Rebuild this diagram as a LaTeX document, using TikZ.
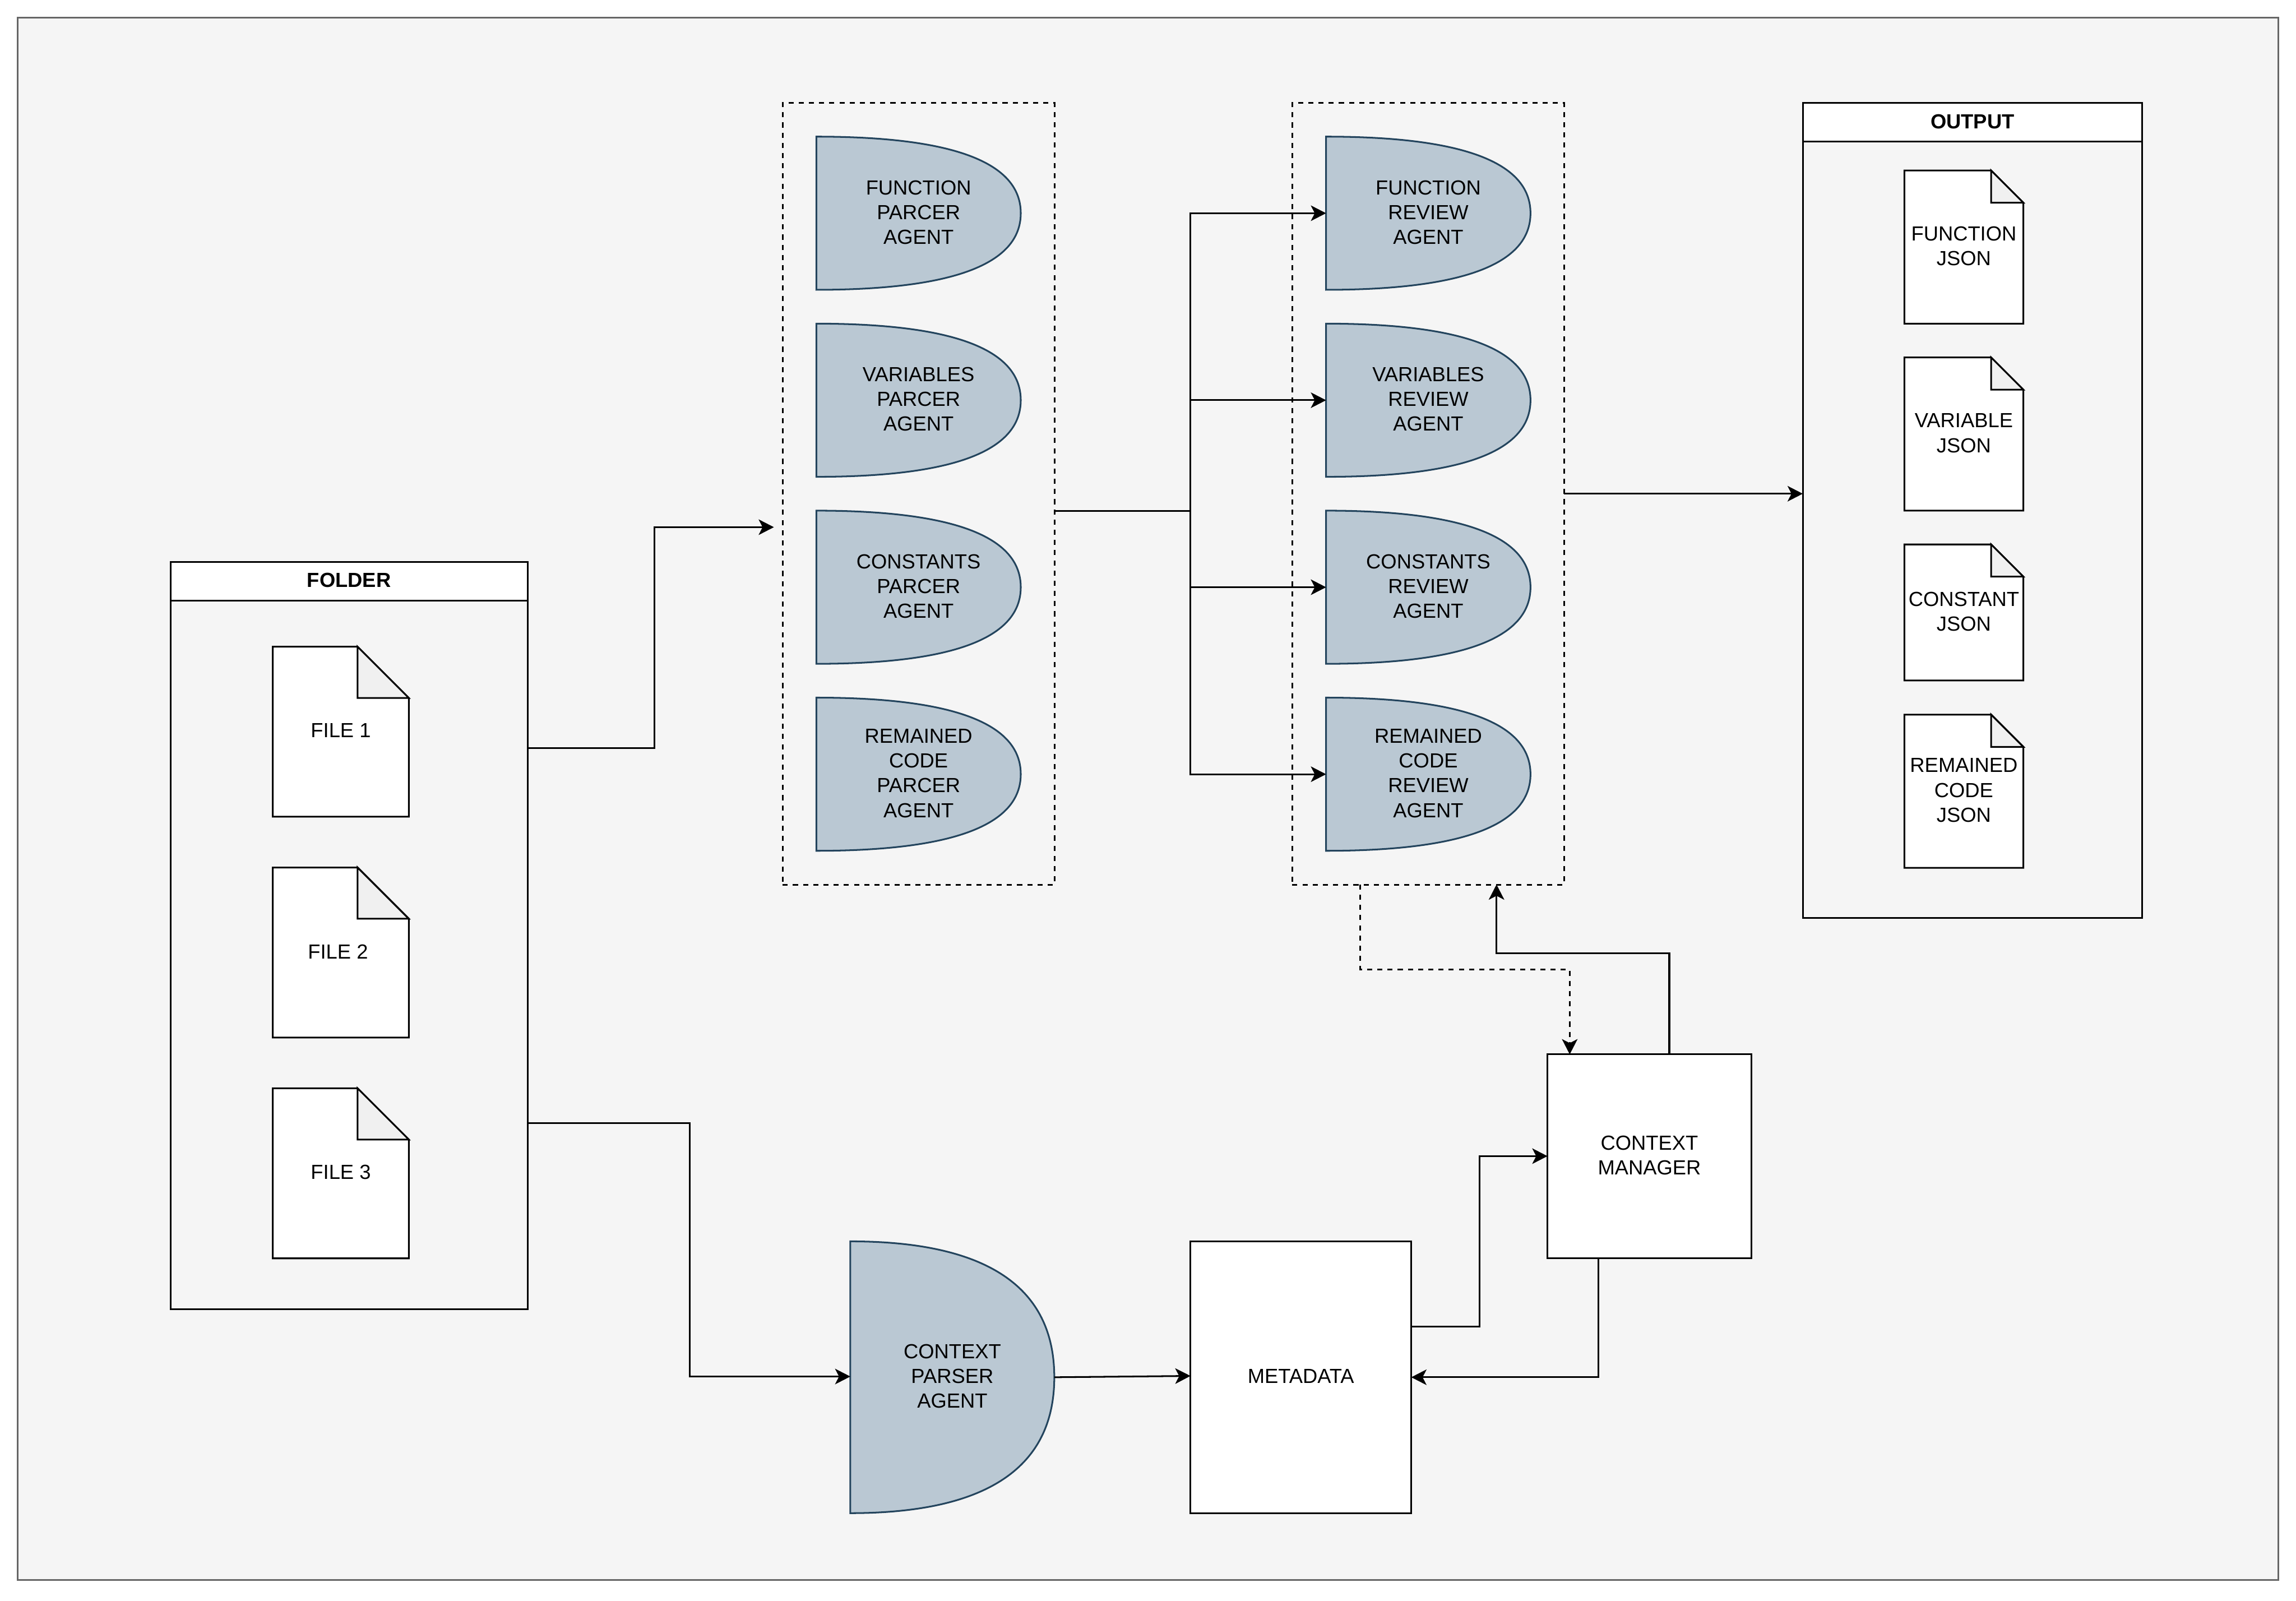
\documentclass[tikz,border=0pt]{standalone}
\usepackage{fontspec}
\setmainfont{Liberation Sans}
\usetikzlibrary{arrows.meta}
\definecolor{pagegray}{HTML}{F5F5F5}
\definecolor{pageline}{HTML}{666666}
\definecolor{agentfill}{HTML}{BAC8D3}
\definecolor{agentline}{HTML}{23445D}
\definecolor{foldgray}{HTML}{F0F0F0}
\tikzset{
  boxlabel/.style={align=center,inner sep=0pt,outer sep=0pt,text depth=1.4pt,font=\fontsize{13.92}{16.9}\selectfont},
  agentshape/.style={line width=1.16pt,draw=agentline,fill=agentfill},
  docshape/.style={line width=1.16pt,draw=black,fill=white,line join=miter},
  whitebox/.style={boxlabel,line width=1.16pt,draw=black,fill=white},
  panelbox/.style={boxlabel,line width=1.16pt,draw=black},
  panelhead/.style={whitebox,font=\fontsize{13.92}{16.9}\selectfont\bfseries},
  groupbox/.style={boxlabel,line width=1.16pt,draw=black,dash pattern=on 3.48pt off 3.48pt},
  flow/.style={line width=1.16pt,-{Stealth[length=10.4pt,width=10.6pt,inset=2.7pt]}},
  plainflow/.style={line width=1.16pt},
  dashflow/.style={flow,dash pattern=on 3.48pt off 3.48pt}
}
\newcommand{\agentnode}[6]{
  \draw[agentshape] (#2,#3) .. controls ({#2+#4*2/3},#3) and ({#2+#4},{#3+#5/6}) .. ({#2+#4},{#3+#5/2})
    .. controls ({#2+#4},{#3+#5*5/6}) and ({#2+#4*2/3},{#3+#5}) .. (#2,{#3+#5}) -- cycle;
  \node[boxlabel,minimum width=#4pt,minimum height=#5pt] (#1) at ({#2+#4/2},{#3+#5/2}) {#6};
}
\newcommand{\docnode}[7]{
  \draw[docshape] (#2,#3) -- ({#2+#4-#6},#3) -- ({#2+#4},{#3+#6}) -- ({#2+#4},{#3+#5}) -- (#2,{#3+#5}) -- cycle;
  \draw[docshape,fill=foldgray] ({#2+#4-#6},#3) -- ({#2+#4-#6},{#3+#6}) -- ({#2+#4},{#3+#6}) -- cycle;
  \node[boxlabel] (#1) at ({#2+#4/2},{#3+#5/2}) {#7};
}
\begin{document}
\begin{tikzpicture}[x=1pt,y=-1pt]
  \useasboundingbox (0,0) rectangle (1568,1093.3);
  \fill[white] (0,0) rectangle (1568,1093.3);
  \draw[line width=1.16pt,draw=pageline,fill=pagegray] (12,12) rectangle (1556,1079);

  \node[panelbox,minimum width=243.9pt,minimum height=510.4pt] (folder) at (238.35,638.8) {};
  \node[panelhead,minimum width=243.9pt,minimum height=26.6pt] (folderhead) at (238.35,396.9) {FOLDER};
  \docnode{fileone}{186.3}{441.6}{92.9}{116.1}{35}{FILE 1}
  \docnode{filetwo}{186.3}{592.4}{92.9}{116.1}{35}{FILE 2~}
  \docnode{filethree}{186.3}{743.2}{92.9}{116.1}{35}{FILE 3}

  \node[groupbox,minimum width=185.7pt,minimum height=533.9pt] (parsergroup) at (627.35,337.15) {};
  \agentnode{funcparser}{557.5}{93.3}{139.6}{104.6}{FUNCTION\\PARCER\\AGENT}
  \agentnode{varparser}{557.5}{221}{139.6}{104.6}{VARIABLES\\PARCER\\AGENT}
  \agentnode{constparser}{557.5}{348.7}{139.6}{104.6}{CONSTANTS\\PARCER~\\AGENT}
  \agentnode{restparser}{557.5}{476.4}{139.6}{104.6}{REMAINED\\CODE~\\PARCER\\AGENT}

  \node[groupbox,minimum width=185.7pt,minimum height=533.9pt] (reviewgroup) at (975.35,337.15) {};
  \agentnode{funcreview}{905.6}{93.3}{139.6}{104.6}{FUNCTION\\REVIEW\\AGENT}
  \agentnode{varreview}{905.6}{221}{139.6}{104.6}{VARIABLES\\REVIEW\\AGENT}
  \agentnode{constreview}{905.6}{348.7}{139.6}{104.6}{CONSTANTS\\REVIEW~\\AGENT}
  \agentnode{restreview}{905.6}{476.4}{139.6}{104.6}{REMAINED\\CODE~\\REVIEW\\AGENT}

  \node[panelbox,minimum width=231.7pt,minimum height=556.8pt] (output) at (1347,348.6) {};
  \node[panelhead,minimum width=231.7pt,minimum height=26.6pt] (outputhead) at (1347,83.5) {OUTPUT};
  \docnode{funcjson}{1300.5}{116.4}{81.3}{104.6}{22}{FUNCTION\\JSON}
  \docnode{varjson}{1300.5}{244.1}{81.3}{104.6}{22}{VARIABLE\\JSON}
  \docnode{constjson}{1300.5}{371.8}{81.3}{92.9}{22}{CONSTANT\\JSON}
  \docnode{restjson}{1300.5}{488}{81.3}{104.6}{22}{REMAINED\\CODE\\JSON}

  \agentnode{contextparser}{580.7}{847.7}{139.3}{185.6}{CONTEXT~\\PARSER~\\AGENT}
  \node[whitebox,minimum width=150.8pt,minimum height=185.6pt] (metadata) at (888.4,940.5) {METADATA};
  \node[whitebox,minimum width=139.2pt,minimum height=139.2pt] (manager) at (1126.4,789.5) {CONTEXT\\MANAGER};

  \coordinate (branch) at (813,349);
  \coordinate (grouptip) at (528.5,360);
  \coordinate (folderup) at (360.3,511);
  \coordinate (folderdown) at (360.3,767);
  \coordinate (metain) at (813,939.6);
  \coordinate (metaout) at (964,905.9);
  \coordinate (managerout) at (1091.6,859);
  \coordinate (managerup) at (1140,720);
  \coordinate (reviewin) at (1022,604);
  \coordinate (reviewout) at (929,604);
  \coordinate (managerin) at (1072,720);

  \draw[flow] (folderup) -- (447,511) -- (447,360) -- (grouptip);
  \draw[flow] (folderdown) -- (471,767) -- (471,940) -- (contextparser.west |- 0,940);
  \draw[plainflow] (parsergroup.east |- branch) -- (branch);
  \draw[flow] (branch) |- (funcreview.west);
  \draw[flow] (branch) |- (varreview.west);
  \draw[flow] (branch) |- (constreview.west);
  \draw[flow] (branch) |- (restreview.west);
  \draw[flow] (reviewgroup.east) -- (reviewgroup.east -| output.west);
  \draw[flow] (contextparser.east) -- (metain);
  \draw[flow] (metaout) -- (1010.3,905.9) -- (1010.3,789.5) -- (manager.west);
  \draw[flow] (managerout) -- (1091.6,940.5) -- (metadata.east);
  \draw[flow] (managerup) -- (1140,651) -- (1022,651) -- (reviewin);
  \draw[dashflow] (reviewout) -- (929,662) -- (1072,662) -- (managerin);
\end{tikzpicture}
\end{document}
